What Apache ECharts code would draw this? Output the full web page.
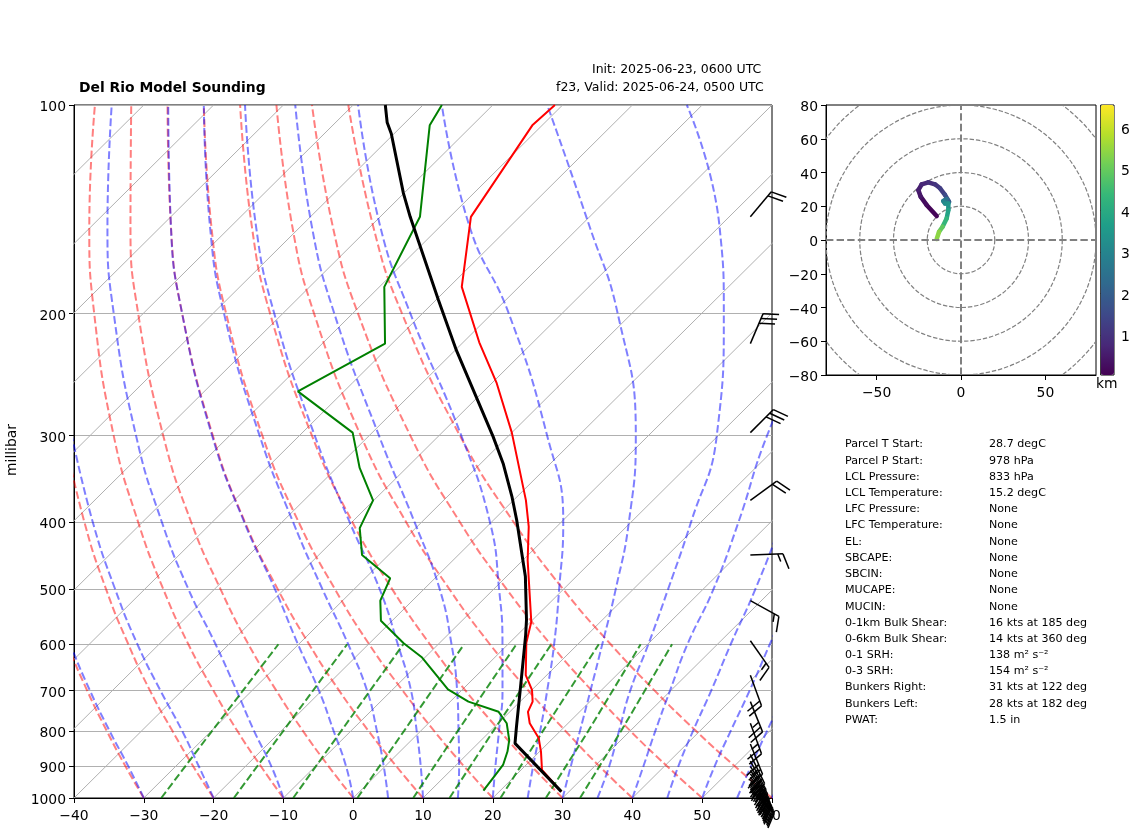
<!DOCTYPE html>
<html>
<head>
<meta charset="utf-8">
<title>Del Rio Model Sounding</title>
<script src="https://cdn.jsdelivr.net/npm/echarts@6/dist/echarts.min.js"></script>
<style>
  html, body { margin: 0; padding: 0; background: #fff; }
  #chart { width: 1142px; height: 838px; }
</style>
</head>
<body>
<div id="chart"></div>
<script>
// sounding profile, pressure in hPa and temperature in degC
var tempP = [979, 911, 857, 819, 780, 751, 726, 698, 665, 597, 557, 454, 406, 372, 297, 252, 220, 183, 145, 107, 100];
var tempT = [28.9, 23, 20.2, 17.9, 14.5, 12.6, 11.8, 10, 7, 2.4, 0.1, -9.3, -14, -18.2, -30, -39.3, -47.7, -58.2, -67, -71.4, -71.1];
var dewP = [976, 896, 857, 825, 780, 751, 726, 697, 627, 598, 555, 519, 482, 446, 408, 372, 334, 297, 259, 221, 183, 145, 107, 100];
var dewT = [17.6, 16.7, 15.4, 14, 11.2, 8.4, 2.6, -2.1, -10.4, -15.1, -21.6, -24.6, -26.4, -33.8, -38, -40.1, -46.7, -52.8, -66.6, -61, -69.3, -74.3, -86.1, -87.3];
var parcelP = [979, 834, 789, 668, 582, 553, 479, 397, 367, 329, 301, 226, 191, 145, 134, 110, 106, 100];
var parcelT = [28.9, 15.3, 13.1, 6.6, 1.2, -0.9, -7.3, -16.7, -20.8, -26.8, -32.1, -49.8, -59.7, -75.7, -80.1, -90.4, -92.6, -95.4];

// background lines of the skew-T diagram
var isothermBases = [-130, -120, -110, -100, -90, -80, -70, -60, -50, -40, -30, -20, -10, 0, 10, 20, 30, 40, 50, 60];
var adiabatLevels = [1000, 900, 800, 700, 600, 500, 400, 300, 200, 150, 100];
var dryAdiabats = [
  [-30, -37.2, -45, -53.6, -63.1, -73.7],
  [-20, -27.5, -35.6, -44.6, -54.4, -65.5, -78.3, -93.7],
  [-10, -17.8, -26.3, -35.5, -45.8, -57.3, -70.6, -86.6, -107, -120.2, -137],
  [0, -8.1, -16.9, -26.5, -37.2, -49.1, -63, -79.5, -100.7, -114.3, -131.8],
  [10, 1.6, -7.5, -17.5, -28.5, -40.9, -55.3, -72.4, -94.4, -108.5, -126.6],
  [20, 11.3, 1.9, -8.4, -19.9, -32.7, -47.6, -65.3, -88.1, -102.7, -121.4],
  [30, 21, 11.3, 0.6, -11.2, -24.5, -39.9, -58.2, -81.8, -96.9, -116.2],
  [40, 30.7, 20.7, 9.6, -2.6, -16.3, -32.2, -51.2, -75.5, -91.1, -111],
  [50, 40.4, 30, 18.7, 6.1, -8.1, -24.5, -44.1, -69.2, -85.3, -105.9],
  [60, 50.1, 39.4, 27.7, 14.7, 0, -16.8, -37, -62.9, -79.5, -100.7]
];
var moistAdiabats = [
  [-30, -36.8, -44.6, -53.2, -62.7, -73.4],
  [-20, -26.7, -34.2, -43.1, -53.1, -64.2, -77.1, -92.6],
  [-10, -16.3, -23.9, -32.2, -41.9, -53.7, -67.2, -83.4, -104.2, -117.6, -134.6],
  [0, -5.6, -12.5, -20.4, -30.1, -41.3, -55.4, -72.5, -94.4, -108.5, -126.5],
  [5, -0.2, -6.3, -13.5, -22.9, -34.5, -48.4, -65.7, -88.4, -102.9, -121.4],
  [10, 5.1, -0.6, -7.2, -15.8, -26.3, -40.3, -57.8, -81.2, -96.3, -115.5],
  [15, 10.6, 5.4, -0.6, -8.1, -17.7, -31, -48.6, -72.6, -88.3, -108.3],
  [20, 15.8, 11.2, 5.9, -0.8, -9.2, -20.2, -36.8, -61.7, -78.5, -99.3],
  [25, 21.2, 17.1, 12.3, 6.6, -0.6, -9.7, -24.5, -47.6, -65.7, -87.3],
  [30, 26.6, 22.8, 18.5, 13.5, 7.5, -0.3, -11.8, -32, -48.5, -72.2],
  [35, 32.1, 28.4, 24.2, 20.1, 15, 8.6, -0.2, -16.8, -29.9, -52.2],
  [40, 37, 33.6, 29.9, 25.7, 21.5, 15.4, 7, -3],
  [45, 42, 39, 35.8, 31.9, 27.5, 21.5, 13],
  [50, 47.2, 44.4, 41.3, 37.5, 33],
  [55, 52.4, 49.6, 46.6],
  [60, 57.7, 55]
];
var mixingLevels = [1000, 800, 600];
var mixingLines = [
  [-27.5, -29.9, -32.9],
  [-17.1, -19.7, -23.05],
  [-8.6, -11.4, -15],
  [0.6, -2.4, -6.3],
  [8.6, 5.3, 1.2],
  [13.8, 10.4, 6.2],
  [21.1, 17.5, 13],
  [27.6, 24, 19],
  [32.5, 28.7, 23.5]
];
var pressureTicks = [100, 200, 300, 400, 500, 600, 700, 800, 900, 1000];

// wind barbs
var barbP = [145, 221, 297, 372, 446, 519, 593, 665, 726, 780, 836, 865, 885, 900, 912, 923, 933, 942, 950, 958, 965, 971, 977];
var barbDir = [40, 23, 45, 54, 88, 119, 145, 160, 158, 160, 158, 154, 151, 148, 146, 144, 142, 140, 138, 136, 135, 134, 133];
var barbKts = [20, 30, 30, 20, 15, 15, 15, 20, 25, 25, 30, 35, 40, 40, 40, 40, 35, 35, 30, 30, 25, 25, 20];

// hodograph
var hodoU = [-14.4, -20.4, -23.9, -25.3, -23.3, -19.4, -15.4, -12.4, -9.5, -7.1, -8.5, -10.5, -9.5, -7.5, -7.5, -8.5, -10.9, -13, -14.4];
var hodoV = [14.2, 20.8, 25.7, 29.6, 33, 34.2, 33, 30.6, 26.7, 22.7, 24.3, 23.1, 21.7, 21.7, 17.8, 12.8, 7.9, 4.9, 0.6];
var hodoKm = [0.1, 0.25, 0.45, 0.6, 0.75, 0.9, 1.05, 1.25, 1.55, 2, 2.5, 2.9, 3.2, 3.4, 3.8, 4.3, 4.9, 5.4, 6.4];
var hodoRings = [20, 40, 60, 80, 100];
var hodoXTicks = [-50, 0, 50];
var colorbarTicks = [1, 2, 3, 4, 5, 6];
var viridis = ['#440154', '#482878', '#3e4989', '#31688e', '#26828e', '#1f9e89', '#35b779', '#6ece58', '#b5de2b', '#fde725'];

// stats table
var statLabels = ['Parcel T Start:', 'Parcel P Start:', 'LCL Pressure:', 'LCL Temperature:', 'LFC Pressure:', 'LFC Temperature:', 'EL:', 'SBCAPE:', 'SBCIN:', 'MUCAPE:', 'MUCIN:', '0-1km Bulk Shear:', '0-6km Bulk Shear:', '0-1 SRH:', '0-3 SRH:', 'Bunkers Right:', 'Bunkers Left:', 'PWAT:'];
var statValues = ['28.7 degC', '978 hPa', '833 hPa', '15.2 degC', 'None', 'None', 'None', 'None', 'None', 'None', 'None', '16 kts at 185 deg', '14 kts at 360 deg', '138 m\u00b2 s\u207b\u00b2', '154 m\u00b2 s\u207b\u00b2', '31 kts at 122 deg', '28 kts at 182 deg', '1.5 in'];

var FONT = '"DejaVu Sans"';
var myChart = echarts.init(document.getElementById('chart'));

function skewed(t, p) {
  return [t + 100 * Math.log10(1000 / p), p];
}

function lineOf(temps, levels, style, smooth) {
  return {
    type: 'line',
    xAxisIndex: 0,
    yAxisIndex: 0,
    data: temps.map(function (t, i) { return skewed(t, levels[i]); }),
    showSymbol: false,
    symbol: 'none',
    smooth: smooth || false,
    silent: true,
    lineStyle: style
  };
}

function minusSign(v) {
  return String(v).replace('-', '\u2212');
}

var DASH = [7.7, 3.3];
var series = [];

isothermBases.forEach(function (t) {
  series.push(lineOf([t, t], [1000, 100], { color: '#b0b0b0', width: 1 }));
});
dryAdiabats.forEach(function (row) {
  series.push(lineOf(row, adiabatLevels, { color: '#ff0000', opacity: 0.5, width: 2, type: DASH }, 0.5));
});
moistAdiabats.forEach(function (row) {
  series.push(lineOf(row, adiabatLevels, { color: '#0000ff', opacity: 0.5, width: 2, type: DASH }, 0.5));
});
mixingLines.forEach(function (row) {
  series.push(lineOf(row, mixingLevels, { color: '#008000', opacity: 0.8, width: 2, type: DASH }));
});
series.push(lineOf(tempT, tempP, { color: '#ff0000', width: 2 }));
series.push(lineOf(dewT, dewP, { color: '#008000', width: 2 }));
series.push(lineOf(parcelT, parcelP, { color: '#000000', width: 3 }));

// barbs hang off a fixed x position, staff runs toward where the wind comes from
series.push({
  type: 'custom',
  xAxisIndex: 0,
  yAxisIndex: 0,
  silent: true,
  z: 5,
  clip: false,
  data: barbP.map(function (p, i) { return [56.9, p, barbDir[i], barbKts[i]]; }),
  encode: { x: 0, y: 1 },
  renderItem: function (params, api) {
    var base = api.coord([api.value(0), api.value(1)]);
    var dir = api.value(2) * Math.PI / 180;
    var kts = api.value(3);
    var len = 32.6, step = 5.2, full = 16;
    var dx = Math.sin(dir), dy = -Math.cos(dir);
    var tip = [base[0] + dx * len, base[1] + dy * len];
    var rot = 70 * Math.PI / 180;
    var fx = dx * Math.cos(rot) - dy * Math.sin(rot);
    var fy = dx * Math.sin(rot) + dy * Math.cos(rot);
    var style = { stroke: '#000', lineWidth: 1.5, fill: null };
    var kids = [{ type: 'line', shape: { x1: base[0], y1: base[1], x2: tip[0], y2: tip[1] }, style: style }];
    var nFull = Math.floor(kts / 10), nHalf = kts % 10 >= 5 ? 1 : 0;
    for (var i = 0; i < nFull + nHalf; i++) {
      var sx = tip[0] - dx * step * i, sy = tip[1] - dy * step * i;
      var l = i < nFull ? full : full / 2;
      kids.push({ type: 'line', shape: { x1: sx, y1: sy, x2: sx + fx * l, y2: sy + fy * l }, style: style });
    }
    return { type: 'group', children: kids };
  }
});

// hodograph rings and crosshair
series.push({
  type: 'custom',
  xAxisIndex: 1,
  yAxisIndex: 1,
  silent: true,
  clip: true,
  data: hodoRings.map(function (r) { return [r]; }),
  encode: { x: 0 },
  renderItem: function (params, api) {
    var c = api.coord([0, 0]);
    var r = api.size([api.value(0), 0])[0];
    return {
      type: 'circle',
      shape: { cx: c[0], cy: c[1], r: r },
      style: { stroke: '#808080', fill: null, lineWidth: 1.2, lineDash: [4.4, 1.9] }
    };
  },
  markLine: {
    silent: true,
    symbol: 'none',
    animation: false,
    label: { show: false },
    lineStyle: { color: '#808080', width: 2, type: [7.4, 3.2] },
    data: [{ xAxis: 0 }, { yAxis: 0 }]
  }
});

// hodograph trace, each piece coloured by height
var hodoIndex = series.length;
series.push({
  type: 'custom',
  xAxisIndex: 1,
  yAxisIndex: 1,
  silent: true,
  z: 4,
  data: hodoU.map(function (u, i) { return [u, hodoV[i], hodoKm[i]]; }),
  encode: { x: 0, y: 1 },
  renderItem: function (params, api) {
    var i = params.dataIndex;
    if (i >= hodoU.length - 1) return null;
    var a = api.coord([hodoU[i], hodoV[i]]);
    var b = api.coord([hodoU[i + 1], hodoV[i + 1]]);
    return {
      type: 'line',
      shape: { x1: a[0], y1: a[1], x2: b[0], y2: b[1] },
      style: { stroke: api.visual('color'), lineWidth: 4.5, lineCap: 'round' }
    };
  }
});

// labels sit a touch lower than ECharts centres them
var tickText = { color: '#000', fontFamily: FONT, fontSize: 13.9, padding: [4, 0, 0, 0] };
var sideText = { color: '#000', fontFamily: FONT, fontSize: 13.9, verticalAlign: 'top', lineHeight: 5 };

var graphicItems = [
  { type: 'text', left: 79, top: 81, style: { text: 'Del Rio Model Sounding', font: 'bold 13.9px ' + FONT, fill: '#000' } },
  { type: 'text', left: 592, top: 63.7, style: { text: 'Init: 2025-06-23, 0600 UTC', font: '12.5px ' + FONT, fill: '#000' } },
  { type: 'text', left: 556, top: 81.7, style: { text: 'f23, Valid: 2025-06-24, 0500 UTC', font: '12.5px ' + FONT, fill: '#000' } },
  { type: 'text', left: 1096, top: 377, style: { text: 'km', font: '13.9px ' + FONT, fill: '#000' } }
];
var statY = [443, 460, 476, 492, 508, 524, 541, 557, 573, 589, 606, 622, 638, 654, 670, 686, 703, 719];
statLabels.forEach(function (s, i) {
  graphicItems.push({ type: 'text', left: 845, top: statY[i] - 4.8, style: { text: s, font: '11.1px ' + FONT, fill: '#000' } });
  graphicItems.push({ type: 'text', left: 989, top: statY[i] - 4.8, style: { text: statValues[i], font: '11.1px ' + FONT, fill: '#000' } });
});

var option = {
  animation: false,
  textStyle: { fontFamily: FONT },
  grid: [
    { left: 74, top: 105, width: 698, height: 693, show: true, borderColor: '#000', borderWidth: 1, backgroundColor: 'transparent', outerBoundsMode: 'none' },
    { left: 826, top: 105, width: 270, height: 270, show: true, borderColor: '#000', borderWidth: 1, backgroundColor: 'transparent', outerBoundsMode: 'none' },
    { left: 1100.7, top: 105, width: 13.3, height: 270, show: true, borderColor: '#000', borderWidth: 1, backgroundColor: 'transparent', outerBoundsMode: 'none' }
  ],
  xAxis: [
    {
      gridIndex: 0, type: 'value', min: -40, max: 60, interval: 10,
      splitLine: { show: false },
      axisLine: { show: true, onZero: false, lineStyle: { color: '#000' } },
      axisTick: { show: true, length: 5, lineStyle: { color: '#000' } },
      axisLabel: Object.assign({ margin: 7, showMinLabel: true, showMaxLabel: true, formatter: minusSign }, tickText)
    },
    {
      gridIndex: 1, type: 'value', min: -80, max: 80,
      splitLine: { show: false },
      axisLine: { show: true, onZero: false, lineStyle: { color: '#000' } },
      axisTick: { show: true, length: 5, customValues: hodoXTicks, lineStyle: { color: '#000' } },
      axisLabel: Object.assign({ margin: 7, customValues: hodoXTicks, formatter: minusSign }, tickText)
    },
    { gridIndex: 2, type: 'value', min: 0, max: 1, show: false }
  ],
  yAxis: [
    {
      gridIndex: 0, type: 'log', logBase: 10, min: 100, max: 1000, inverse: true,
      name: 'millibar', nameLocation: 'middle', nameGap: 47, nameRotate: 90,
      nameTextStyle: { color: '#000', fontFamily: FONT, fontSize: 13.9, padding: [0, 0, 0, 3] },
      splitLine: { show: true, lineStyle: { color: '#b0b0b0', width: 1 } },
      minorTick: { show: false },
      axisLine: { show: true, onZero: false, lineStyle: { color: '#000' } },
      axisTick: { show: true, length: 5, customValues: pressureTicks, lineStyle: { color: '#000' } },
      axisLabel: Object.assign({ margin: 8, customValues: pressureTicks, formatter: function (v) { return String(Math.round(v)); } }, sideText)
    },
    {
      gridIndex: 1, type: 'value', min: -80, max: 80, interval: 20,
      splitLine: { show: false },
      axisLine: { show: true, onZero: false, lineStyle: { color: '#000' } },
      axisTick: { show: true, length: 5, lineStyle: { color: '#000' } },
      axisLabel: Object.assign({ margin: 8, formatter: minusSign }, sideText)
    },
    {
      gridIndex: 2, type: 'value', min: 0.04, max: 6.54, position: 'right',
      splitLine: { show: false },
      axisLine: { show: false },
      axisTick: { show: true, length: 5, customValues: colorbarTicks, lineStyle: { color: '#000' } },
      axisLabel: Object.assign({ margin: 7, customValues: colorbarTicks }, sideText)
    }
  ],
  visualMap: {
    type: 'continuous',
    seriesIndex: hodoIndex,
    dimension: 2,
    min: 0.04,
    max: 6.54,
    left: 1100.7,
    top: 105,
    padding: 0,
    itemWidth: 13.3,
    itemHeight: 270,
    calculable: false,
    hoverLink: false,
    text: null,
    showLabel: false,
    inRange: { color: viridis }
  },
  series: series,
  graphic: graphicItems
};

myChart.setOption(option);
</script>
</body>
</html>
